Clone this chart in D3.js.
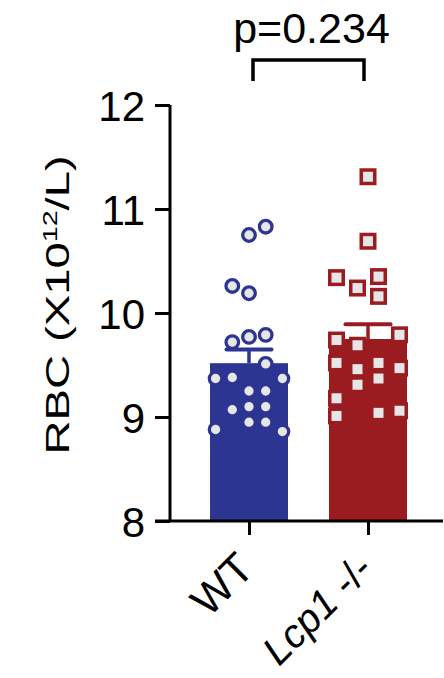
<!DOCTYPE html>
<html>
<head>
<meta charset="utf-8">
<script src="https://cdn.jsdelivr.net/npm/d3@7"></script>
<style>
  html, body { margin: 0; padding: 0; background: #fff; }
  svg text { font-family: "Liberation Sans", Arial, Helvetica, sans-serif; fill: #000; }
</style>
</head>
<body>
<svg id="chart" width="444" height="678"></svg>
<script>
// == Daten ==
const groups = ['WT', 'Lcp1'];
const barColors = ['#2c3591', '#9b1c20'];
const yTicks = [8, 9, 10, 11, 12];
const pValueText = 'p=0.234';

// RBC-Werte je Tier
const wtValues = [10.83, 10.75, 10.26, 10.19, 9.72, 9.77, 9.79, 9.51, 9.37, 9.38,
                  9.37, 9.25, 9.25, 9.07, 9.10, 9.10, 8.95, 8.95, 8.88, 8.86];
// Spalte im Scatter (Prism-Anordnung)
const wtSlots  = [1, 0, -1, 0, -1, 0, 1, 1, -2, -1,
                  2, 0, 1, -1, 0, 1, 0, 1, -2, 2];

const lcpValues = [11.31, 10.69, 10.34, 10.24, 10.35, 10.16, 9.74, 9.69, 9.79, 9.52,
                   9.46, 9.52, 9.47, 9.31, 9.37, 9.18, 9.01, 9.04, 9.06];
const lcpSlots  = [0, 0, -1.5, -0.5, 0.5, 0.5, -1.5, -0.5, 1.5, -1.5,
                   -0.5, 0.5, 1.5, -0.5, 0.5, -1.5, -1.5, 0.5, 1.5];

const series = [
    {group: 'WT', values: wtValues, slots: wtSlots, shape: 'circle', slotWidth: 16.7},
    {group: 'Lcp1', values: lcpValues, slots: lcpSlots, shape: 'square', slotWidth: 21}
];

const svg = d3.select('#chart');

// Skalen
const y = d3.scaleLinear().domain([8, 12]).range([521, 105]);
const x = d3.scalePoint().domain(groups).range([249, 368]);
const color = d3.scaleOrdinal().domain(groups).range(barColors);
const BAR_W = 78;
const CAP_W = 45;

// Mittelwert und SEM
series.forEach(s => {
    s.mean = d3.mean(s.values);
    s.sem = d3.deviation(s.values) / Math.sqrt(s.values.length);
});

// Balken
svg.append('g')
    .selectAll('rect')
    .data(series)
    .join('rect')
    .attr('x', d => x(d.group) - BAR_W / 2)
    .attr('width', BAR_W)
    .attr('y', d => y(d.mean))
    .attr('height', d => y(8) - y(d.mean))
    .attr('fill', d => color(d.group));

// Fehlerbalken (nur nach oben sichtbar)
const err = svg.append('g')
    .selectAll('g')
    .data(series)
    .join('g')
    .attr('stroke', d => color(d.group));
err.append('line')
    .attr('x1', d => x(d.group)).attr('x2', d => x(d.group))
    .attr('y1', d => y(d.mean)).attr('y2', d => y(d.mean + d.sem))
    .attr('stroke-width', 3.5);
err.append('line')
    .attr('x1', d => x(d.group) - CAP_W / 2).attr('x2', d => x(d.group) + CAP_W / 2)
    .attr('y1', d => y(d.mean + d.sem)).attr('y2', d => y(d.mean + d.sem))
    .attr('stroke-width', 4)
    .attr('stroke-linecap', 'round');

// Einzelwerte
series.forEach(s => {
    const pts = s.values.map((v, i) => ({v: v, slot: s.slots[i]}));
    const g = svg.append('g')
        .attr('fill', '#e6e6e6')
        .attr('stroke', color(s.group));
    if (s.shape === 'circle') {
        g.selectAll('circle')
            .data(pts)
            .join('circle')
            .attr('cx', d => x(s.group) + d.slot * s.slotWidth)
            .attr('cy', d => y(d.v))
            .attr('r', 6.3)
            .attr('stroke-width', 3.3);
    } else {
        const side = 13.5;
        g.selectAll('rect')
            .data(pts)
            .join('rect')
            .attr('x', d => x(s.group) + d.slot * s.slotWidth - side / 2)
            .attr('y', d => y(d.v) - side / 2)
            .attr('width', side)
            .attr('height', side)
            .attr('stroke-width', 3.5);
    }
});

// Y-Achse
const yAxis = svg.append('g')
    .attr('transform', `translate(${170},0)`)
    .call(d3.axisLeft(y).tickValues(yTicks).tickSize(15).tickPadding(10).tickFormat(d3.format('d')));
yAxis.select('.domain').attr('stroke', '#000').attr('stroke-width', 3).attr('d', `M0,${y(12)}V${y(8)}`);
yAxis.selectAll('.tick line').attr('stroke', '#000').attr('stroke-width', 3);
yAxis.selectAll('.tick text')
    .attr('font-size', 42)
    .attr('font-family', '"Liberation Sans", Arial, sans-serif')
    .attr('fill', '#000')
    .attr('dy', '0.36em');

// X-Achse
const xAxisY = y(8);
const xAxis = svg.append('g')
    .attr('transform', `translate(0,${xAxisY})`)
    .call(d3.axisBottom(x).tickSize(14).tickFormat(''));
xAxis.select('.domain').attr('stroke', '#000').attr('stroke-width', 3).attr('d', `M${155},0H${443}`);
xAxis.selectAll('.tick line').attr('stroke', '#000').attr('stroke-width', 3);

// X-Beschriftungen, gedreht (Grundlinie endet rechts neben dem Tick)
const xLabels = svg.append('g')
    .selectAll('text')
    .data(groups)
    .join('text')
    .attr('transform', d => `translate(${x(d) + 7},${571}) rotate(-45)`)
    .attr('text-anchor', 'end')
    .attr('font-size', d => d === 'WT' ? 43 : 40);
xLabels.filter(d => d === 'WT').text('WT');
const lcpLabel = xLabels.filter(d => d === 'Lcp1');
lcpLabel.append('tspan').attr('font-style', 'italic').text('Lcp1');
lcpLabel.append('tspan').text(' -/-');

// Y-Titel (gestaucht wie im Original)
const yTitle = svg.append('text')
    .attr('transform', `translate(69,${305}) rotate(-90) scale(1.43,1)`)
    .attr('text-anchor', 'middle')
    .attr('font-size', 33);
yTitle.append('tspan').text('RBC (X10');
yTitle.append('tspan').attr('font-size', 20).attr('dy', -12).text('12');
yTitle.append('tspan').attr('dy', 12).text('/L)');

// Signifikanz-Klammer
const bracketY = 60;
svg.append('path')
    .attr('d', `M${x('WT') + 4},${bracketY + 21}V${bracketY}H${x('Lcp1') - 4}V${bracketY + 21}`)
    .attr('fill', 'none')
    .attr('stroke', '#000')
    .attr('stroke-width', 3.5);
svg.append('text')
    .attr('x', (x('WT') + x('Lcp1')) / 2 + 3)
    .attr('y', 43)
    .attr('text-anchor', 'middle')
    .attr('font-size', 43)
    .text(pValueText);
</script>
</body>
</html>
